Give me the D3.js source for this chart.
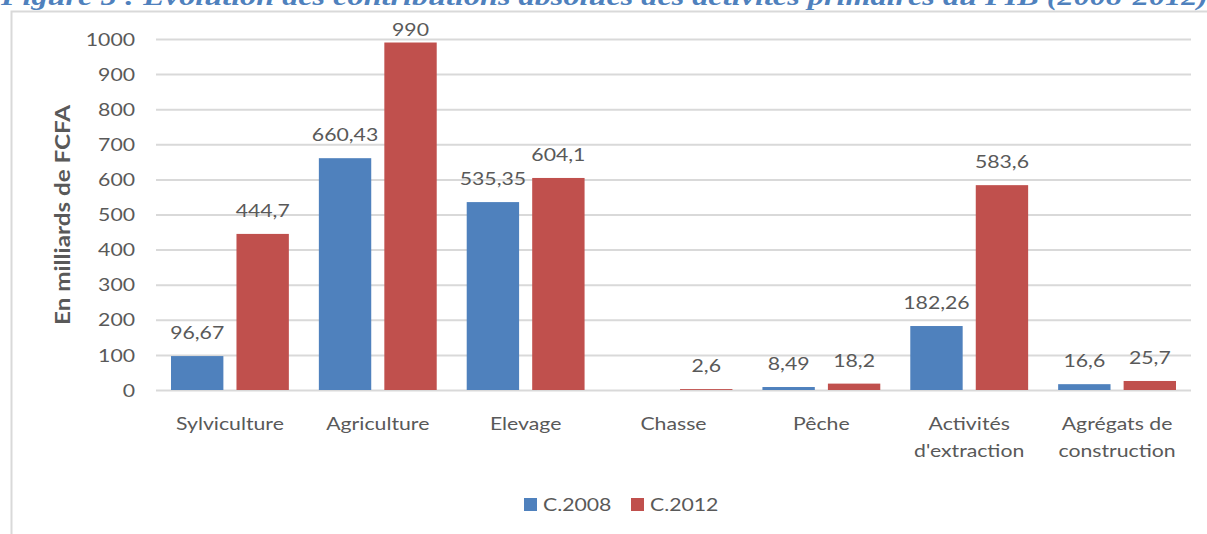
<!DOCTYPE html>
<html>
<head>
<meta charset="utf-8">
<script src="https://cdn.jsdelivr.net/npm/d3@7"></script>
<style>
  html, body { margin: 0; padding: 0; background: #fff; }
  svg { display: block; }
  text { font-family: Lato, "Open Sans", sans-serif; fill: #595959; }
</style>
</head>
<body>
<svg id="chart" width="1207" height="534"></svg>
<script>
// Activity sectors (two-line labels split on "\n")
const categories = ["Sylviculture", "Agriculture", "Elevage", "Chasse", "Pêche", "Activités\nd'extraction", "Agrégats de\nconstruction"];
const seriesNames = ["C.2008", "C.2012"];
// Absolute contributions, billions of FCFA
const values2008 = [96.67, 660.43, 535.35, null, 8.49, 182.26, 16.6];
const values2012 = [444.7, 990, 604.1, 2.6, 18.2, 583.6, 25.7];
const yTicks = [0, 100, 200, 300, 400, 500, 600, 700, 800, 900, 1000];
const colors = ["#4F81BD", "#C0504D"];
const titleText = "Figure 5 : Evolution des contributions absolues des activités primaires au PIB (2008-2012)";

const SX = 1.18;          // horizontal stretch applied to chart text
const W = 1207, H = 534;
const plot = { left: 156, right: 1191, top: 39, bottom: 390 };

const svg = d3.select("#chart");

// Caption line above the chart frame
svg.append("text")
  .attr("x", 1).attr("y", 5)
  .attr("textLength", 1207).attr("lengthAdjust", "spacingAndGlyphs")
  .style("font-family", "'Liberation Serif', 'Times New Roman', serif")
  .style("font-weight", "bold").style("font-style", "italic")
  .style("font-size", "26px").style("fill", "#4F81BD")
  .text(titleText);

// Chart frame (top and left edges visible)
svg.append("path")
  .attr("d", `M11.5,${H} V11.5 H${W}`)
  .attr("fill", "none").attr("stroke", "#D9D9D9").attr("stroke-width", 2);

const x0 = d3.scaleBand().domain(categories).range([plot.left, plot.right]).padding(0);
const x1 = d3.scaleBand().domain(seriesNames).range([15, x0.bandwidth() - 15]).paddingInner(0.2);
const y = d3.scaleLinear().domain([0, 1000]).range([plot.bottom, plot.top]);

// Gridlines + tick labels
const yAxis = svg.append("g")
  .attr("transform", `translate(${plot.left},0)`)
  .call(d3.axisLeft(y).tickValues(yTicks).tickSize(-(plot.right - plot.left)).tickPadding(0).tickFormat(d3.format("d")));
yAxis.select(".domain").remove();
yAxis.selectAll(".tick line").attr("stroke", "#D9D9D9").attr("stroke-width", 2);
yAxis.selectAll(".tick text")
  .attr("x", -21 / SX).attr("dy", "0.34em")
  .attr("transform", `scale(${SX},1)`)
  .style("font-size", "18px").style("fill", "#595959")
  .attr("text-anchor", "end");

// Y axis title
svg.append("text")
  .attr("transform", `translate(70,215) rotate(-90) scale(${SX},1)`)
  .attr("text-anchor", "middle")
  .style("font-size", "20.5px").style("font-weight", "bold")
  .text("En milliards de FCFA");

const rows = categories.map((c, i) => ({ cat: c, vals: [values2008[i], values2012[i]] }));

const groups = svg.append("g").selectAll("g")
  .data(rows).join("g")
  .attr("transform", d => `translate(${x0(d.cat)},0)`);

const cells = groups.selectAll("g.cell")
  .data(d => d.vals.map((v, k) => ({ v, k })).filter(e => e.v !== null))
  .join("g").attr("class", "cell");

cells.append("rect")
  .attr("x", e => x1(seriesNames[e.k]))
  .attr("width", x1.bandwidth())
  .attr("y", e => y(e.v))
  .attr("height", e => y(0) - y(e.v))
  .attr("fill", e => colors[e.k]);

// Value labels above the bars (decimal comma)
cells.append("text")
  .attr("transform", e => {
    const cx = x1(seriesNames[e.k]) + x1.bandwidth() / 2;
    const by = Math.max(y(e.v) - 17, 36);
    return `translate(${cx},${by}) scale(${SX},1)`;
  })
  .attr("text-anchor", "middle")
  .style("font-size", "18px")
  .text(e => String(e.v).replace(".", ","));

// Category labels
const catLabels = svg.append("g").selectAll("text")
  .data(categories).join("text")
  .attr("transform", d => `translate(${x0(d) + x0.bandwidth() / 2},430) scale(${SX},1)`)
  .attr("text-anchor", "middle")
  .style("font-size", "18px");
catLabels.each(function(d) {
  const lines = d.split("\n");
  d3.select(this).selectAll("tspan").data(lines).join("tspan")
    .attr("x", 0).attr("y", (l, i) => i * 27)
    .text(l => l);
});

// Legend
const legendItems = [
  { name: seriesNames[0], color: colors[0], x: 524 },
  { name: seriesNames[1], color: colors[1], x: 631 }
];
const lg = svg.append("g").selectAll("g").data(legendItems).join("g")
  .attr("transform", d => `translate(${d.x},498)`);
lg.append("rect").attr("width", 13).attr("height", 13).attr("fill", d => d.color);
lg.append("text")
  .attr("transform", `translate(19,13) scale(${SX},1)`)
  .style("font-size", "18px")
  .text(d => d.name);
</script>
</body>
</html>
